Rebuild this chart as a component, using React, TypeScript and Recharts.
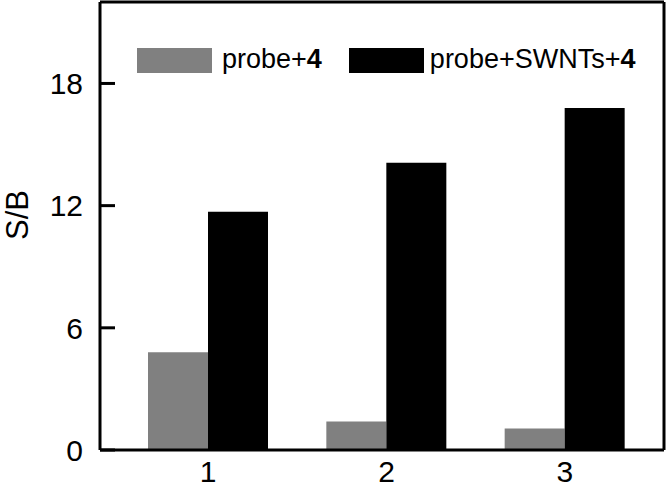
import React from 'react';
import { BarChart, Bar, XAxis, YAxis, Legend } from 'recharts';

const categories = ['1', '2', '3'];
const probeValues = [4.8, 1.4, 1.05];
const swntValues = [11.7, 14.1, 16.8];
const seriesNames = ['probe+4', 'probe+SWNTs+4'];
const seriesColors = ['#808080', '#000000'];
const yTicks = [0, 6, 12, 18];

const data = categories.map((c, i) => ({
  name: c,
  probe: probeValues[i],
  swnt: swntValues[i],
}));

const FONT = 'Arial, "Liberation Sans", Helvetica, sans-serif';
const TICK_FONT_SIZE = 30;

// last character of each series name is set in bold (compound number)
function renderLegend(props: any) {
  const { payload = [] } = props;
  return (
    <div style={{ display: 'flex', alignItems: 'center', fontFamily: FONT, fontSize: 27, color: '#000' }}>
      {payload.map((entry: any, i: number) => {
        const name = String(entry.value);
        return (
          <div key={name} style={{ display: 'flex', alignItems: 'center', marginRight: i === 0 ? 27 : 0 }}>
            <div style={{ width: 75, height: 25, background: entry.color, marginRight: i === 0 ? 10 : 6 }} />
            <span style={{ lineHeight: '30px', position: 'relative', top: -1 }}>
              {name.slice(0, -1)}
              <b>{name.slice(-1)}</b>
            </span>
          </div>
        );
      })}
    </div>
  );
}

function renderYLabel(props: any) {
  const { viewBox } = props;
  const cy = viewBox.y + viewBox.height / 2 - 11;
  return (
    <text
      x={28}
      y={cy}
      transform={`rotate(-90, 28, ${cy})`}
      textAnchor="middle"
      fontFamily={FONT}
      fontSize={31}
      fill="#000"
    >
      S/B
    </text>
  );
}

function YTick(props: any) {
  const { x, y, payload } = props;
  return (
    <text x={x} y={y} dy={TICK_FONT_SIZE * 0.36} textAnchor="end" fontFamily={FONT} fontSize={TICK_FONT_SIZE} fill="#000">
      {payload.value}
    </text>
  );
}

function XTick(props: any) {
  const { x, y, payload } = props;
  return (
    <text x={x} y={y} textAnchor="middle" fontFamily={FONT} fontSize={TICK_FONT_SIZE} fill="#000">
      {payload.value}
    </text>
  );
}

export default function App() {
  const axisStroke = { stroke: '#000', strokeWidth: 3 };
  return (
    <div style={{ position: 'absolute', left: 0, top: 0, width: 666, height: 487, background: '#fff' }}>
      <BarChart
        width={666}
        height={487}
        data={data}
        margin={{ top: 1, right: 1, left: 0, bottom: 0 }}
        barGap={0}
        barSize={60}
      >
        <XAxis
          dataKey="name"
          height={37}
          padding={{ left: 19, right: 10 }}
          axisLine={axisStroke}
          tickLine={false}
          tickSize={0}
          tickMargin={32}
          tick={<XTick />}
        />
        <XAxis
          xAxisId="top"
          dataKey="name"
          orientation="top"
          height={1}
          axisLine={axisStroke}
          tick={false}
          tickLine={false}
        />
        <YAxis
          width={100}
          domain={[0, 22]}
          ticks={yTicks}
          interval={0}
          axisLine={axisStroke}
          tickLine={axisStroke}
          tickSize={-15}
          tickMargin={32}
          tick={<YTick />}
          label={{ content: renderYLabel }}
        />
        <YAxis
          yAxisId="right"
          orientation="right"
          width={1}
          domain={[0, 22]}
          axisLine={axisStroke}
          tick={false}
          tickLine={false}
        />
        <Legend
          content={renderLegend}
          layout="horizontal"
          align="center"
          verticalAlign="middle"
          wrapperStyle={{ position: 'absolute', left: 137, top: 45, width: 'auto' }}
        />
        <Bar dataKey="probe" name={seriesNames[0]} fill={seriesColors[0]} isAnimationActive={false} />
        <Bar dataKey="swnt" name={seriesNames[1]} fill={seriesColors[1]} isAnimationActive={false} />
      </BarChart>
    </div>
  );
}
